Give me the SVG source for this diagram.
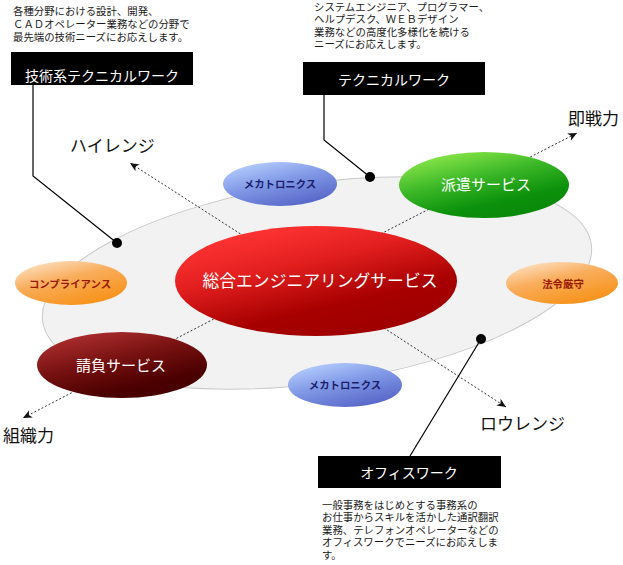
<svg xmlns="http://www.w3.org/2000/svg" width="623" height="565" viewBox="0 0 623 565">
  <style>
    text { font-family: "Noto Sans CJK JP", "Noto Sans", sans-serif; }
    .desc { font-size: 10.4px; fill: #1a1a1a; }
    .box { fill: #000; }
    .boxt { font-size: 14px; fill: #fff; text-anchor: middle; }
    .lbl { font-size: 17px; fill: #111; }
    .lead { stroke: #000; stroke-width: 1.2; fill: none; }
    .dot { fill: #000; }
    .dash { stroke: #333; stroke-width: 1; stroke-dasharray: 2 2; fill: none; marker-end: url(#arr); }
    .big { font-size: 16.8px; fill: #fff; text-anchor: middle; }
    .mid { font-size: 15px; fill: #fff; text-anchor: middle; }
    .sm { font-size: 10.4px; font-weight: bold; text-anchor: middle; }
  </style>
  <defs>
    <marker id="arr" markerWidth="10" markerHeight="10" refX="9" refY="4" orient="auto" markerUnits="userSpaceOnUse">
      <path d="M0,0 L9,4 L0,8 L2.5,4 z" fill="#111"/>
    </marker>
    <linearGradient id="gRed" x1="0.15" y1="0.1" x2="0.65" y2="0.95">
      <stop offset="0" stop-color="#ff3434"/>
      <stop offset="0.35" stop-color="#e31f1f"/>
      <stop offset="0.75" stop-color="#a80000"/>
      <stop offset="1" stop-color="#a00000"/>
    </linearGradient>
    <linearGradient id="gGreen" x1="0.15" y1="0.1" x2="0.65" y2="0.95">
      <stop offset="0" stop-color="#86e447"/>
      <stop offset="0.4" stop-color="#3cb828"/>
      <stop offset="0.8" stop-color="#0b910b"/>
      <stop offset="1" stop-color="#0a8a0a"/>
    </linearGradient>
    <linearGradient id="gDark" x1="0.15" y1="0.1" x2="0.65" y2="0.95">
      <stop offset="0" stop-color="#aa2c2c"/>
      <stop offset="0.45" stop-color="#751010"/>
      <stop offset="0.85" stop-color="#4c0000"/>
      <stop offset="1" stop-color="#480000"/>
    </linearGradient>
    <linearGradient id="gOrange" x1="0.1" y1="0.05" x2="0.65" y2="0.95">
      <stop offset="0" stop-color="#fde2c4"/>
      <stop offset="0.45" stop-color="#f9ad5c"/>
      <stop offset="1" stop-color="#f7941d"/>
    </linearGradient>
    <linearGradient id="gBlue" x1="0.1" y1="0.05" x2="0.65" y2="0.95">
      <stop offset="0" stop-color="#b8d0ff"/>
      <stop offset="0.5" stop-color="#8199e6"/>
      <stop offset="1" stop-color="#5b6bcb"/>
    </linearGradient>
  </defs>

  <!-- backdrop ellipse -->
  <ellipse id="ring" cx="317" cy="283" rx="277" ry="100" transform="rotate(-8 317 283)" fill="#f2f2f2" stroke="#c9c9c9" stroke-width="1"/>

  <!-- descriptions -->
  <g id="desc-tech">
    <text class="desc" x="13" y="14.5"><tspan x="13" y="14.5">各種分野における設計、開発、</tspan><tspan x="13" y="27.8">ＣＡＤオペレーター業務などの分野で</tspan><tspan x="13" y="41">最先端の技術ニーズにお応えします。</tspan></text>
  </g>
  <g id="desc-technical">
    <text class="desc" x="314" y="10.5"><tspan x="314" y="10.5">システムエンジニア、プログラマー、</tspan><tspan x="314" y="23">ヘルプデスク、ＷＥＢデザイン</tspan><tspan x="314" y="35.5">業務などの高度化多様化を続ける</tspan><tspan x="314" y="48">ニーズにお応えします。</tspan></text>
  </g>
  <g id="desc-office">
    <text class="desc" x="322" y="508.5"><tspan x="322" y="508.5">一般事務をはじめとする事務系の</tspan><tspan x="322" y="521">お仕事からスキルを活かした通訳翻訳</tspan><tspan x="322" y="533.5">業務、テレフォンオペレーターなどの</tspan><tspan x="322" y="546">オフィスワークでニーズにお応えしま</tspan><tspan x="322" y="558.5">す。</tspan></text>
  </g>

  <!-- connectors -->
  <g id="connectors">
    <line class="dash" x1="264" y1="249" x2="130" y2="163"/>
    <line class="dash" x1="363" y1="243" x2="577" y2="133"/>
    <line class="dash" x1="235" y1="308" x2="23" y2="418"/>
    <line class="dash" x1="367" y1="317" x2="506" y2="407"/>
    <polyline class="lead" points="33,85 33,176 117,243"/>
    <polyline class="lead" points="324,95 324,140 370,177"/>
    <polyline class="lead" points="410,456 481,339"/>
    <circle class="dot" cx="117" cy="243" r="5"/>
    <circle class="dot" cx="370" cy="177" r="5"/>
    <circle class="dot" cx="481" cy="339" r="5"/>
  </g>

  <!-- header boxes -->
  <g id="box-tech">
    <rect class="box" x="11" y="52" width="182" height="33"/>
    <text class="boxt" x="102" y="80.5">技術系テクニカルワーク</text>
  </g>
  <g id="box-technical">
    <rect class="box" x="303" y="62" width="182" height="33"/>
    <text class="boxt" x="394" y="84.5">テクニカルワーク</text>
  </g>
  <g id="box-office">
    <rect class="box" x="318" y="456" width="183" height="32"/>
    <text class="boxt" x="409" y="478">オフィスワーク</text>
  </g>

  <!-- range labels -->
  <g id="lbl-high"><text class="lbl" x="70" y="152">ハイレンジ</text></g>
  <g id="lbl-ready"><text class="lbl" x="568" y="125">即戦力</text></g>
  <g id="lbl-org"><text class="lbl" x="3" y="442">組織力</text></g>
  <g id="lbl-low"><text class="lbl" x="480" y="430">ロウレンジ</text></g>

  <!-- service ellipses -->
  <g id="mecha-top">
    <ellipse cx="280" cy="184" rx="57" ry="22" fill="url(#gBlue)"/>
    <text class="sm" x="280" y="188" fill="#1a1f6e">メカトロニクス</text>
  </g>
  <g id="mecha-bottom">
    <ellipse cx="345" cy="385" rx="57" ry="22" fill="url(#gBlue)"/>
    <text class="sm" x="345" y="389" fill="#1a1f6e">メカトロニクス</text>
  </g>
  <g id="compliance">
    <ellipse cx="71" cy="283" rx="56" ry="22" fill="url(#gOrange)"/>
    <text class="sm" x="70" y="287.5" fill="#9a1a00">コンプライアンス</text>
  </g>
  <g id="law">
    <ellipse cx="562" cy="283" rx="56" ry="21" fill="url(#gOrange)"/>
    <text class="sm" x="563" y="287.5" fill="#9a1a00">法令厳守</text>
  </g>
  <g id="dispatch">
    <ellipse cx="484" cy="185" rx="85" ry="33" fill="url(#gGreen)"/>
    <text class="mid" x="486" y="190">派遣サービス</text>
  </g>
  <g id="contract">
    <ellipse cx="122" cy="365" rx="85" ry="33" fill="url(#gDark)"/>
    <text class="mid" x="121" y="371">請負サービス</text>
  </g>
  <g id="general">
    <ellipse cx="316" cy="281" rx="141" ry="55" fill="url(#gRed)"/>
    <text class="big" x="320" y="287">総合エンジニアリングサービス</text>
  </g>
</svg>
